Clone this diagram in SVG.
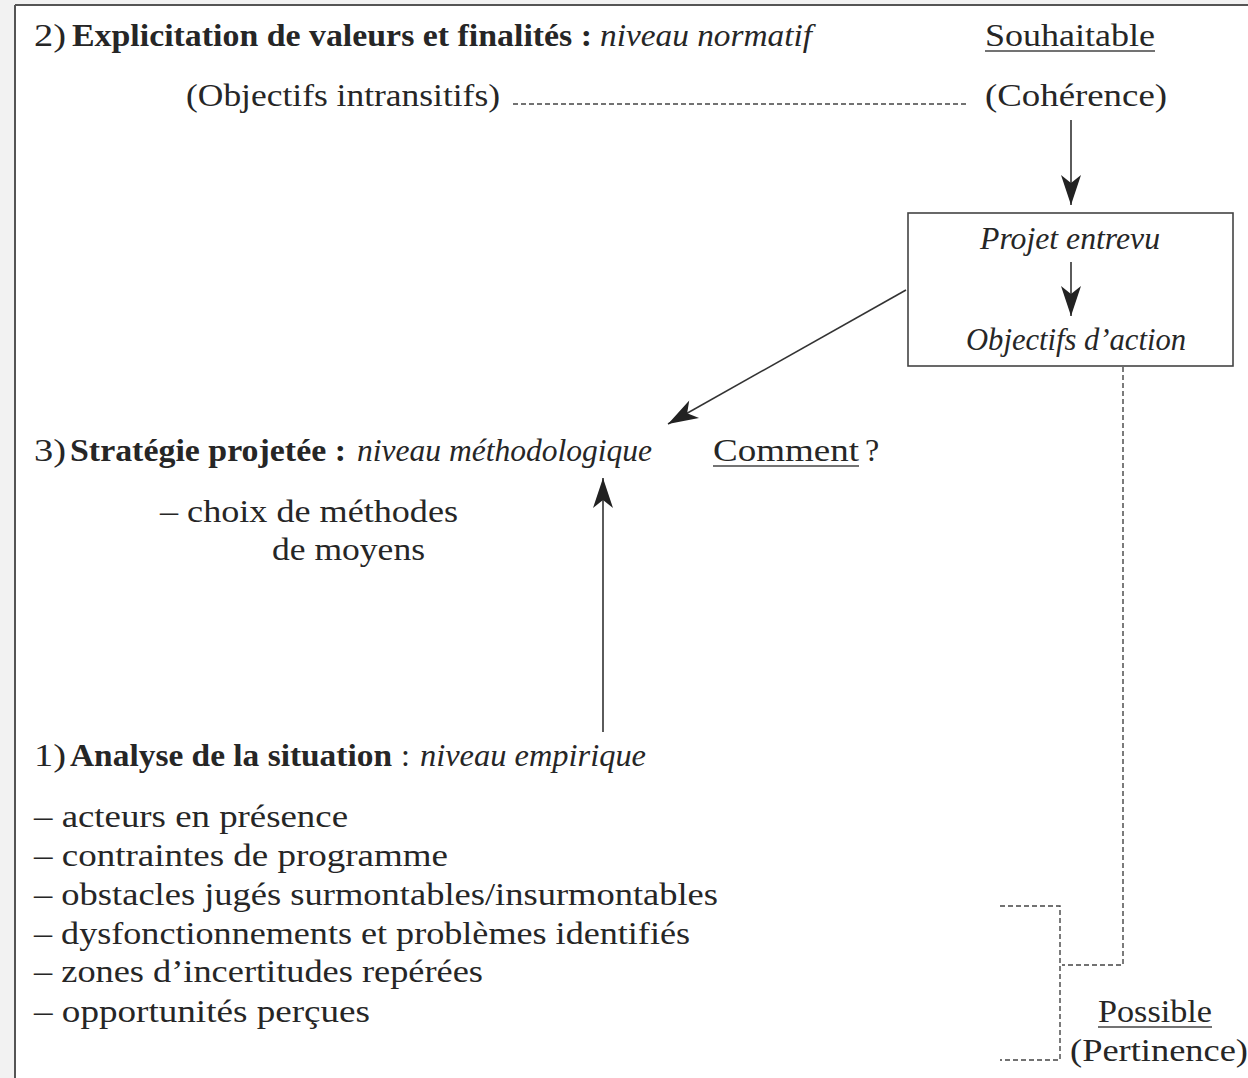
<svg xmlns="http://www.w3.org/2000/svg" width="1248" height="1078" viewBox="0 0 1248 1078">
<style>
text{font-family:"Liberation Serif","Times New Roman",serif;font-size:32px;fill:#262626}
.b{font-weight:bold}
.i{font-style:italic}
.ln{stroke:#333;stroke-width:1.6;fill:none}
.ul{stroke:#444;stroke-width:1.6}
.dash{stroke:#444;stroke-width:1.4;fill:none;stroke-dasharray:5 3}
</style>
<defs>
<marker id="ah" viewBox="-32 -12 34 24" refX="0" refY="0" markerWidth="34" markerHeight="24" markerUnits="userSpaceOnUse" orient="auto">
<path d="M0,0 L-30,-10 L-22,0 L-30,10 Z" fill="#222"/>
</marker>
</defs>
<rect x="0" y="0" width="1248" height="1078" fill="#f2f2f2"/>
<rect x="15" y="6" width="1240" height="1080" fill="#fff"/>
<line x1="15" y1="5" x2="1248" y2="5" stroke="#555" stroke-width="2"/>
<line x1="15" y1="5" x2="15" y2="1078" stroke="#555" stroke-width="2"/>

<g id="n-normatif">
<text x="34" y="46" textLength="32" lengthAdjust="spacingAndGlyphs">2)</text>
<text class="b" x="72" y="46" textLength="520" lengthAdjust="spacingAndGlyphs">Explicitation de valeurs et finalités :</text>
<text class="i" x="600" y="46" textLength="212" lengthAdjust="spacingAndGlyphs">niveau normatif</text>
</g>
<g id="n-souhaitable">
<text x="985" y="46" textLength="170" lengthAdjust="spacingAndGlyphs">Souhaitable</text>
<line class="ul" x1="985" y1="51" x2="1155" y2="51"/>
</g>
<g id="n-objectifs-intransitifs">
<text x="186" y="106" textLength="314" lengthAdjust="spacingAndGlyphs">(Objectifs intransitifs)</text>
</g>
<g id="n-coherence">
<text x="985" y="106" textLength="182" lengthAdjust="spacingAndGlyphs">(Cohérence)</text>
</g>
<g id="n-projet">
<rect x="908" y="213" width="325" height="153" fill="none" stroke="#444" stroke-width="1.6"/>
<text class="i" x="980" y="249" textLength="180" lengthAdjust="spacingAndGlyphs">Projet entrevu</text>
<text class="i" x="966" y="350" textLength="220" lengthAdjust="spacingAndGlyphs">Objectifs d’action</text>
</g>
<g id="n-strategie">
<text x="34" y="461" textLength="32" lengthAdjust="spacingAndGlyphs">3)</text>
<text class="b" x="70" y="461" textLength="276" lengthAdjust="spacingAndGlyphs">Stratégie projetée :</text>
<text class="i" x="357" y="461" textLength="295" lengthAdjust="spacingAndGlyphs">niveau méthodologique</text>
</g>
<g id="n-comment">
<text x="713" y="461" textLength="146" lengthAdjust="spacingAndGlyphs">Comment</text>
<line class="ul" x1="713" y1="466" x2="859" y2="466"/>
<text x="865" y="461">?</text>
</g>
<g id="n-choix">
<text x="160" y="522" textLength="298" lengthAdjust="spacingAndGlyphs">– choix de méthodes</text>
<text x="272" y="560" textLength="153" lengthAdjust="spacingAndGlyphs">de moyens</text>
</g>
<g id="n-analyse">
<text x="34" y="766" textLength="32" lengthAdjust="spacingAndGlyphs">1)</text>
<text class="b" x="70" y="766" textLength="322" lengthAdjust="spacingAndGlyphs">Analyse de la situation</text>
<text x="401" y="766">:</text>
<text class="i" x="420" y="766" textLength="226" lengthAdjust="spacingAndGlyphs">niveau empirique</text>
<text x="34" y="827" textLength="314" lengthAdjust="spacingAndGlyphs">– acteurs en présence</text>
<text x="34" y="866" textLength="414" lengthAdjust="spacingAndGlyphs">– contraintes de programme</text>
<text x="34" y="905" textLength="684" lengthAdjust="spacingAndGlyphs">– obstacles jugés surmontables/insurmontables</text>
<text x="34" y="944" textLength="656" lengthAdjust="spacingAndGlyphs">– dysfonctionnements et problèmes identifiés</text>
<text x="34" y="982" textLength="449" lengthAdjust="spacingAndGlyphs">– zones d’incertitudes repérées</text>
<text x="34" y="1022" textLength="336" lengthAdjust="spacingAndGlyphs">– opportunités perçues</text>
</g>
<g id="n-possible">
<text x="1098" y="1022" textLength="114" lengthAdjust="spacingAndGlyphs">Possible</text>
<line class="ul" x1="1098" y1="1027" x2="1212" y2="1027"/>
<text x="1070" y="1061" textLength="178" lengthAdjust="spacingAndGlyphs">(Pertinence)</text>
</g>

<g id="connectors">
<line class="dash" x1="513" y1="104" x2="967" y2="104"/>
<line class="ln" x1="1071" y1="120" x2="1071" y2="205" marker-end="url(#ah)"/>
<line class="ln" x1="1071" y1="262" x2="1071" y2="316" marker-end="url(#ah)"/>
<line class="ln" x1="906" y1="290" x2="668" y2="424" marker-end="url(#ah)"/>
<line class="ln" x1="603" y1="732" x2="603" y2="478" marker-end="url(#ah)"/>
<polyline class="dash" points="1123,367 1123,965 1062,965"/>
<polyline class="dash" points="1000,906 1060,906 1060,1060 1000,1060"/>
</g>
</svg>
